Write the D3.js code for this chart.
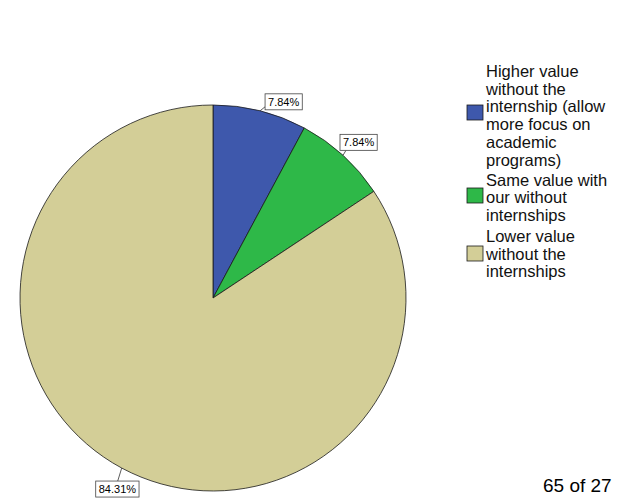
<!DOCTYPE html>
<html>
<head>
<meta charset="utf-8">
<script src="https://cdn.jsdelivr.net/npm/d3@7"></script>
<style>
  html, body { margin: 0; padding: 0; background: #fff; }
  svg { display: block; }
  text { font-family: Arial, "Liberation Sans", sans-serif; }
</style>
</head>
<body>
<svg id="chart" width="619" height="498"></svg>
<script>
// ---- data ----
const categories = [
  "Higher value without the internship (allow more focus on academic programs)",
  "Same value with our without internships",
  "Lower value without the internships"
];
const values = [7.84, 7.84, 84.31];
const valueLabels = ["7.84%", "7.84%", "84.31%"];
const legendLines = [
  ["Higher value", "without the", "internship (allow", "more focus on", "academic", "programs)"],
  ["Same value with", "our without", "internships"],
  ["Lower value", "without the", "internships"]
];
const colors = ["#3e58ac", "#2eb848", "#d3ce97"];
const footerText = "65 of 27";

// ---- layout ----
const W = 619, H = 498;
const cx = 213, cy = 298, R = 193;
// label box offsets relative to the arc point at each slice's mid-angle
const boxOffsets = [
  { dx: 5, dy: -17, ax: 5, ay: -4 },
  { dx: -3, dy: -21, ax: 3, ay: -5 },
  { dx: -26, dy: 13, ax: -4, ay: 13 }
];

const svg = d3.select("#chart");
const g = svg.append("g").attr("transform", `translate(${cx},${cy})`);

const pie = d3.pie().sort(null).value(d => d);
const arcs = pie(values);
const arcGen = d3.arc().innerRadius(0).outerRadius(R);

g.selectAll("path.slice")
  .data(arcs)
  .join("path")
  .attr("class", "slice")
  .attr("d", arcGen)
  .attr("fill", (d, i) => colors[i])
  .attr("stroke", "#1a1a1a")
  .attr("stroke-width", 0.8)
  .attr("stroke-linejoin", "round");

// labels
const labelFont = 11;
arcs.forEach((d, i) => {
  const mid = (d.startAngle + d.endAngle) / 2;
  const px = R * Math.sin(mid), py = -R * Math.cos(mid);
  const o = boxOffsets[i];
  const txt = valueLabels[i];
  const t = g.append("text")
    .attr("font-size", labelFont)
    .attr("fill", "#000")
    .text(txt);
  const tw = t.node().getComputedTextLength();
  const bw = tw + 6, bh = 16;
  const bx = px + o.dx, by = py + o.dy;
  g.append("line")
    .attr("x1", px).attr("y1", py)
    .attr("x2", px + o.ax).attr("y2", py + o.ay)
    .attr("stroke", "#333").attr("stroke-width", 0.8);
  g.append("rect")
    .attr("x", bx).attr("y", by)
    .attr("width", bw).attr("height", bh)
    .attr("fill", "#fff")
    .attr("stroke", "#444").attr("stroke-width", 0.8);
  t.attr("x", bx + 3).attr("y", by + 12);
  t.raise();
});

// legend
const legend = svg.append("g");
const legX = 467, textX = 486;
const lineH = 17.7;
const entryStarts = [77, 185.5, 242];
const swatchTops = [105, 188, 246];
legendLines.forEach((lines, i) => {
  legend.append("rect")
    .attr("x", legX).attr("y", swatchTops[i])
    .attr("width", 16).attr("height", 15)
    .attr("fill", colors[i])
    .attr("stroke", "#1a1a1a").attr("stroke-width", 0.8);
  const t = legend.append("text")
    .attr("font-size", 16.5)
    .attr("fill", "#111");
  lines.forEach((ln, j) => {
    t.append("tspan")
      .attr("x", textX)
      .attr("y", entryStarts[i] + j * lineH)
      .text(ln);
  });
});

// footer page text
svg.append("text")
  .attr("x", 543).attr("y", 492)
  .attr("font-size", 19)
  .attr("fill", "#000")
  .text(footerText);
</script>
</body>
</html>
